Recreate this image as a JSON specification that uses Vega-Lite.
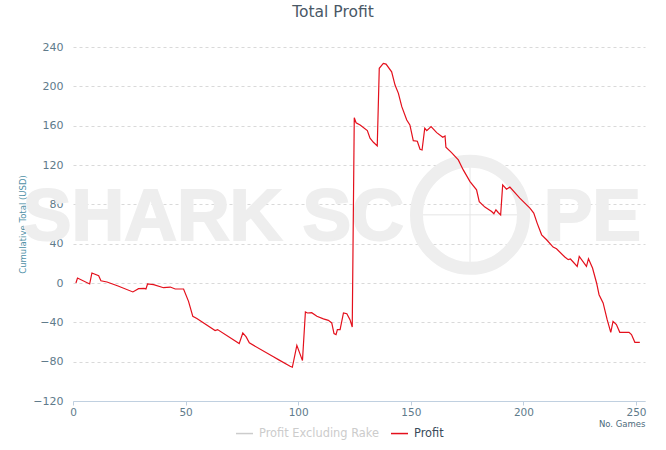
{
  "$schema": "https://vega.github.io/schema/vega-lite/v6.json",
  "width": 572,
  "height": 354,
  "autosize": {"type": "none"},
  "padding": {"left": 73, "top": 47, "right": 21, "bottom": 49},
  "background": "white",
  "title": {"text": "Total Profit", "anchor": "middle", "frame": "group", "dx": -26, "offset": 21, "fontSize": 15.5, "font": "DejaVu Sans", "fontWeight": "normal", "color": "#4a5866"},
  "datasets": {
    "profit": [
      {"g": 1.3, "v": 0}, {"g": 2.0, "v": 5.1}, {"g": 7.4, "v": -1}, {"g": 8.4, "v": 10.2}, {"g": 11.4, "v": 7.4},
      {"g": 12.4, "v": 2.3}, {"g": 15.1, "v": 1}, {"g": 20, "v": -3}, {"g": 26.6, "v": -9.1}, {"g": 29.1, "v": -5.8},
      {"g": 31.6, "v": -5.5}, {"g": 32.4, "v": -6.1}, {"g": 33.1, "v": -1}, {"g": 35.8, "v": -1.7}, {"g": 40.2, "v": -4.8},
      {"g": 43.2, "v": -4.1}, {"g": 45.4, "v": -6.1}, {"g": 49.1, "v": -6.1}, {"g": 51.3, "v": -18.7}, {"g": 53.2, "v": -33.9},
      {"g": 55.0, "v": -36.2}, {"g": 63.1, "v": -48.4}, {"g": 64.2, "v": -47.4}, {"g": 73.8, "v": -61.6}, {"g": 75.4, "v": -50.8},
      {"g": 76.9, "v": -54.8}, {"g": 78.3, "v": -60.9}, {"g": 89.0, "v": -75.1}, {"g": 91.2, "v": -77.9}, {"g": 96.4, "v": -84.7},
      {"g": 97.4, "v": -85.7}, {"g": 99.4, "v": -63.4}, {"g": 101.9, "v": -78.9}, {"g": 103.2, "v": -29.4}, {"g": 104.1, "v": -30.5},
      {"g": 106.0, "v": -30.2}, {"g": 108.3, "v": -33.9}, {"g": 111.2, "v": -36.5}, {"g": 113.4, "v": -38}, {"g": 114.9, "v": -40.6},
      {"g": 115.9, "v": -51.5}, {"g": 116.8, "v": -52.5}, {"g": 117.4, "v": -47.4}, {"g": 118.6, "v": -47.4}, {"g": 120.1, "v": -30.5},
      {"g": 121.6, "v": -31.2}, {"g": 123.0, "v": -37.3}, {"g": 124.0, "v": -44.7}, {"g": 124.9, "v": 168}, {"g": 125.7, "v": 163},
      {"g": 127.5, "v": 160.7}, {"g": 130.7, "v": 155}, {"g": 131.9, "v": 147.2}, {"g": 133.4, "v": 143.1}, {"g": 135.1, "v": 139.4},
      {"g": 136.0, "v": 218.3}, {"g": 137.8, "v": 223.4}, {"g": 139.0, "v": 222.6}, {"g": 141.5, "v": 214.8}, {"g": 143.0, "v": 201.3},
      {"g": 144.5, "v": 192.9}, {"g": 146.0, "v": 179.3}, {"g": 148.2, "v": 165.8}, {"g": 149.6, "v": 160.7}, {"g": 151.1, "v": 144.8},
      {"g": 152.9, "v": 144.2}, {"g": 154.1, "v": 136}, {"g": 155.0, "v": 135.3}, {"g": 156.2, "v": 157.4}, {"g": 157.1, "v": 154.9},
      {"g": 159.0, "v": 159}, {"g": 161.5, "v": 152.9}, {"g": 164.2, "v": 148.2}, {"g": 165.2, "v": 149.5}, {"g": 165.6, "v": 138},
      {"g": 168.1, "v": 132.6}, {"g": 171.1, "v": 125.2}, {"g": 173.3, "v": 115}, {"g": 176.3, "v": 103.1}, {"g": 179.2, "v": 94.7},
      {"g": 180.4, "v": 82.8}, {"g": 182.9, "v": 77.2}, {"g": 184.4, "v": 75.1}, {"g": 185.9, "v": 72.7}, {"g": 186.9, "v": 70.4},
      {"g": 187.8, "v": 74.4}, {"g": 188.8, "v": 71.7}, {"g": 189.9, "v": 69.3}, {"g": 190.8, "v": 99.8}, {"g": 192.5, "v": 95.4},
      {"g": 194.0, "v": 97.5}, {"g": 198.4, "v": 86.3}, {"g": 202.9, "v": 76.1}, {"g": 204.6, "v": 71.1}, {"g": 206.1, "v": 60.9},
      {"g": 208.1, "v": 49}, {"g": 210.3, "v": 44}, {"g": 213.2, "v": 36.5}, {"g": 214.7, "v": 34.8}, {"g": 218.4, "v": 26.4},
      {"g": 219.9, "v": 23.7}, {"g": 220.9, "v": 24.4}, {"g": 223.9, "v": 16.9}, {"g": 224.8, "v": 27}, {"g": 228.0, "v": 16.9},
      {"g": 228.9, "v": 24.7}, {"g": 230.7, "v": 15.2}, {"g": 232.5, "v": 0}, {"g": 233.6, "v": -11.9}, {"g": 235.4, "v": -20.3},
      {"g": 237.2, "v": -37.3}, {"g": 238.8, "v": -50.2}, {"g": 239.8, "v": -39}, {"g": 241.3, "v": -42.3}, {"g": 242.8, "v": -50.2},
      {"g": 246.9, "v": -50.2}, {"g": 248.0, "v": -52.5}, {"g": 249.5, "v": -60.3}, {"g": 251.7, "v": -60.3}
    ]
  },
  "layer": [
    {
      "data": {"values": [{"t": "SHARK SC"}]},
      "mark": {"type": "text", "font": "Liberation Sans", "fontWeight": "bold", "fontSize": 73, "align": "right", "baseline": "alphabetic", "color": "#eeeeee", "stroke": "#eeeeee", "strokeWidth": 2, "clip": false},
      "encoding": {
        "x": {"datum": 147, "type": "quantitative", "scale": {"domain": [0, 254], "nice": false, "zero": false}, "axis": {"values": [0, 50, 100, 150, 200, 250], "title": "No. Games"}},
        "y": {"datum": 44, "type": "quantitative", "scale": {"domain": [-120, 240], "nice": false, "zero": false}, "axis": {"values": [-120, -80, -40, 0, 40, 80, 120, 160, 200, 240], "title": "Cumulative Total (USD)"}},
        "text": {"field": "t"}}
    },
    {
      "data": {"values": [{"t": "PE"}]},
      "mark": {"type": "text", "font": "Liberation Sans", "fontWeight": "bold", "fontSize": 73, "align": "left", "baseline": "alphabetic", "color": "#eeeeee", "stroke": "#eeeeee", "strokeWidth": 2, "clip": false},
      "encoding": {
        "x": {"datum": 209, "type": "quantitative", "axis": {"values": [0, 50, 100, 150, 200, 250], "title": "No. Games"}},
        "y": {"datum": 44, "type": "quantitative", "axis": {"values": [-120, -80, -40, 0, 40, 80, 120, 160, 200, 240], "title": "Cumulative Total (USD)"}},
        "text": {"field": "t"}}
    },
    {
      "data": {"values": [{"t": "hair"}]},
      "mark": {"type": "rule", "color": "#e6e6e6", "strokeWidth": 1},
      "encoding": {
        "x": {"datum": 154, "type": "quantitative", "axis": {"values": [0, 50, 100, 150, 200, 250], "title": "No. Games"}},
        "x2": {"datum": 198.4},
        "y": {"datum": 69.3, "type": "quantitative", "axis": {"values": [-120, -80, -40, 0, 40, 80, 120, 160, 200, 240], "title": "Cumulative Total (USD)"}}}
    },
    {
      "data": {"values": [{"t": "hair"}]},
      "mark": {"type": "rule", "color": "#e6e6e6", "strokeWidth": 1},
      "encoding": {
        "x": {"datum": 176.3, "type": "quantitative", "axis": {"values": [0, 50, 100, 150, 200, 250], "title": "No. Games"}},
        "y": {"datum": 120, "type": "quantitative", "axis": {"values": [-120, -80, -40, 0, 40, 80, 120, 160, 200, 240], "title": "Cumulative Total (USD)"}},
        "y2": {"datum": 18}}
    },
    {
      "data": {"values": [{"t": "scope"}]},
      "mark": {"type": "point", "shape": "circle", "filled": false, "size": 11449, "strokeWidth": 13, "color": "#eeeeee", "opacity": 1},
      "encoding": {
        "x": {"datum": 176.3, "type": "quantitative", "axis": {"values": [0, 50, 100, 150, 200, 250], "title": "No. Games"}},
        "y": {"datum": 69.3, "type": "quantitative", "axis": {"values": [-120, -80, -40, 0, 40, 80, 120, 160, 200, 240], "title": "Cumulative Total (USD)"}}}
    },
    {
      "data": {"name": "profit"},
      "transform": [{"calculate": "'Profit'", "as": "s"}],
      "mark": {"type": "line", "strokeWidth": 1.2, "clip": true},
      "encoding": {
        "x": {"field": "g", "type": "quantitative", "axis": {"values": [0, 50, 100, 150, 200, 250], "title": "No. Games"}},
        "y": {"field": "v", "type": "quantitative", "axis": {"values": [-120, -80, -40, 0, 40, 80, 120, 160, 200, 240], "title": "Cumulative Total (USD)"}},
        "color": {"field": "s", "type": "nominal", "scale": {"domain": ["Profit Excluding Rake", "Profit"], "range": ["#cccccc", "#e4101c"]},
          "legend": {"title": null, "orient": "none", "legendX": 162, "legendY": 377, "direction": "horizontal", "symbolType": "stroke", "symbolSize": 289, "symbolStrokeWidth": 1.5,
            "labelFont": "DejaVu Sans", "labelFontSize": 11.4, "labelOffset": 5, "columnPadding": 8,
            "encode": {"labels": {"update": {"fill": {"signal": "datum.label === 'Profit' ? '#3a4a5a' : '#cccccc'"}}}}}}
      }
    }
  ],
  "config": {
    "view": {"stroke": null},
    "axis": {"labelFlush": false, "labelOverlap": false, "labelFont": "DejaVu Sans", "labelColor": "#607b8b", "titleFont": "DejaVu Sans", "titleFontWeight": "normal", "titleFontSize": 8.5},
    "axisX": {"grid": false, "domain": true, "domainColor": "#c0d0e0", "domainWidth": 1, "ticks": true, "tickColor": "#c0d0e0", "tickSize": 4, "labelPadding": 2, "labelFontSize": 10.5,
      "titleColor": "#4d6b7b", "titleAnchor": "end", "titleAlign": "right", "titleX": 572, "titleY": 22.5, "titleBaseline": "middle"},
    "axisY": {"grid": true, "gridColor": "#d9d9d9", "gridDash": [3, 3], "gridWidth": 1, "domain": false, "ticks": false, "labelPadding": 10, "labelFontSize": 11,
      "titleColor": "#4d8fa6", "titleX": -51, "titleY": 177, "titleBaseline": "middle", "titleAlign": "center"}
  }
}
